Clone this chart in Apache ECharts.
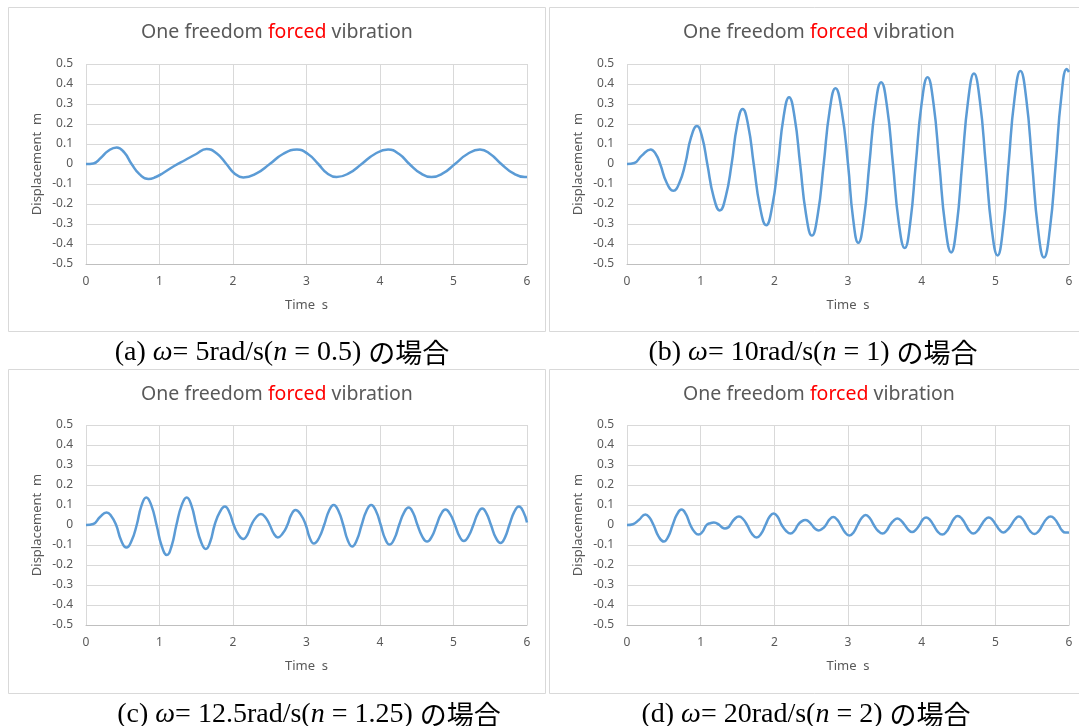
<!DOCTYPE html>
<html><head><meta charset="utf-8">
<script src="https://cdn.jsdelivr.net/npm/echarts@6/dist/echarts.min.js"></script>
<style>html,body{margin:0;padding:0;background:#fff}#c{width:1079px;height:726px}</style>
</head><body><div id="c"></div>
<script>
// ---- data: [time s, displacement m] ----
const curveA = [[0,0],[0.1,0.003],[0.2,0.03],[0.3,0.065],[0.417,0.083],[0.52,0.058],[0.62,0],[0.73,-0.052],[0.85,-0.075],[0.95,-0.065],
  [1.05,-0.045],[1.2,-0.01],[1.35,0.02],[1.5,0.05],[1.64,0.075],[1.78,0.052],[1.91,0],[2.02,-0.047],[2.14,-0.067],[2.32,-0.047],
  [2.5,0],[2.68,0.05],[2.87,0.072],[3.02,0.05],[3.16,0],[3.28,-0.046],[3.41,-0.065],[3.58,-0.046],[3.75,0],[3.93,0.05],
  [4.11,0.072],[4.26,0.05],[4.40,0],[4.55,-0.046],[4.70,-0.065],[4.86,-0.046],[5.02,0],[5.19,0.05],[5.36,0.072],[5.50,0.05],
  [5.65,0],[5.81,-0.046],[5.97,-0.065],[6.0,-0.065]];

const curveB = [[0,0],[0.1,0.005],[0.2,0.042],[0.32,0.073],[0.39,0.05],[0.45,0],[0.54,-0.095],[0.63,-0.134],[0.71,-0.095],[0.79,0],
  [0.87,0.134],[0.95,0.19],[1.02,0.134],[1.09,0],[1.175,-0.163],[1.26,-0.232],[1.34,-0.163],[1.42,0],[1.495,0.193],[1.57,0.275],
  [1.645,0.193],[1.72,0],[1.805,-0.214],[1.89,-0.306],[1.97,-0.214],[2.05,0],[2.125,0.234],[2.20,0.334],[2.275,0.234],[2.35,0],
  [2.43,-0.251],[2.51,-0.358],[2.59,-0.251],[2.67,0],[2.75,0.265],[2.83,0.379],[2.915,0.265],[3.0,0],[3.07,-0.276],[3.14,-0.394],
  [3.215,-0.276],[3.29,0],[3.37,0.286],[3.45,0.409],[3.53,0.286],[3.61,0],[3.69,-0.294],[3.77,-0.42],[3.845,-0.294],[3.92,0],
  [4.0,0.304],[4.08,0.434],[4.16,0.304],[4.24,0],[4.32,-0.309],[4.40,-0.442],[4.475,-0.309],[4.55,0],[4.63,0.316],[4.71,0.452],
  [4.79,0.316],[4.87,0],[4.95,-0.32],[5.03,-0.457],[5.105,-0.32],[5.18,0],[5.26,0.326],[5.34,0.465],[5.42,0.326],[5.50,0],
  [5.58,-0.327],[5.66,-0.467],[5.74,-0.327],[5.82,0],[5.895,0.333],[5.97,0.475],[6.0,0.46]];

const curveC = [[0,0],[0.1,0.005],[0.19,0.04],[0.28,0.063],[0.345,0.044],[0.41,0],[0.48,-0.079],[0.55,-0.113],[0.62,-0.079],[0.69,0],
  [0.755,0.097],[0.82,0.138],[0.89,0.097],[0.96,0],[1.03,-0.105],[1.10,-0.15],[1.165,-0.105],[1.23,0],[1.30,0.097],[1.37,0.138],
  [1.435,0.097],[1.50,0],[1.565,-0.084],[1.63,-0.12],[1.69,-0.084],[1.75,0],[1.82,0.064],[1.89,0.092],[1.95,0.064],[2.01,0],
  [2.075,-0.049],[2.14,-0.07],[2.195,-0.049],[2.25,0],[2.315,0.039],[2.38,0.055],[2.44,0.039],[2.50,0],[2.555,-0.043],[2.61,-0.062],
  [2.675,-0.043],[2.74,0],[2.795,0.053],[2.85,0.075],[2.92,0.053],[2.99,0],[3.045,-0.065],[3.10,-0.093],[3.17,-0.065],[3.24,0],
  [3.305,0.07],[3.37,0.10],[3.435,0.07],[3.50,0],[3.56,-0.075],[3.62,-0.107],[3.685,-0.075],[3.75,0],[3.815,0.07],[3.88,0.10],
  [3.945,0.07],[4.01,0],[4.07,-0.069],[4.13,-0.098],[4.195,-0.069],[4.26,0],[4.325,0.061],[4.39,0.087],[4.45,0.061],[4.51,0],
  [4.575,-0.058],[4.64,-0.083],[4.705,-0.058],[4.77,0],[4.83,0.054],[4.89,0.077],[4.955,0.054],[5.02,0],[5.08,-0.056],[5.14,-0.08],
  [5.205,-0.056],[5.27,0],[5.33,0.057],[5.39,0.082],[5.45,0.057],[5.51,0],[5.575,-0.063],[5.64,-0.09],[5.70,-0.063],[5.76,0],
  [5.825,0.064],[5.89,0.092],[5.95,0.066],[6.0,0.012]];

const curveD = [[0,0],[0.08,0.004],[0.16,0.025],[0.25,0.053],[0.305,0.037],[0.36,0],[0.43,-0.058],[0.50,-0.083],[0.56,-0.058],[0.62,0],
  [0.68,0.054],[0.74,0.077],[0.80,0.054],[0.86,0],[0.915,-0.034],[0.97,-0.048],[1.025,-0.034],[1.08,0],[1.13,0.009],[1.18,0.012],
  [1.255,0],[1.29,-0.012],[1.33,-0.017],[1.375,-0.012],[1.40,0],[1.46,0.03],[1.52,0.043],[1.575,0.03],[1.63,0],[1.695,-0.044],
  [1.76,-0.063],[1.82,-0.044],[1.88,0],[1.935,0.041],[1.99,0.058],[2.045,0.041],[2.10,0],[2.16,-0.03],[2.22,-0.043],[2.27,-0.03],
  [2.32,0],[2.37,0.018],[2.42,0.025],[2.465,0.018],[2.51,0],[2.555,-0.019],[2.60,-0.027],[2.65,-0.019],[2.70,0],[2.75,0.028],
  [2.80,0.04],[2.85,0.028],[2.90,0],[2.96,-0.037],[3.02,-0.053],[3.075,-0.037],[3.13,0],[3.185,0.035],[3.24,0.05],[3.295,0.035],
  [3.35,0],[3.41,-0.03],[3.47,-0.043],[3.52,-0.03],[3.57,0],[3.62,0.022],[3.67,0.032],[3.72,0.022],[3.77,0],[3.82,-0.024],
  [3.87,-0.035],[3.92,-0.024],[3.97,0],[4.015,0.027],[4.06,0.038],[4.11,0.027],[4.16,0],[4.22,-0.034],[4.28,-0.048],[4.335,-0.034],
  [4.39,0],[4.44,0.032],[4.49,0.045],[4.545,0.032],[4.60,0],[4.65,-0.03],[4.70,-0.043],[4.755,-0.03],[4.81,0],[4.86,0.026],
  [4.91,0.037],[4.96,0.026],[5.01,0],[5.06,-0.026],[5.11,-0.037],[5.16,-0.026],[5.215,0],[5.27,0.03],[5.32,0.042],[5.37,0.03],
  [5.42,0],[5.475,-0.032],[5.53,-0.045],[5.585,-0.032],[5.64,0],[5.695,0.03],[5.75,0.042],[5.805,0.03],[5.86,0],[5.905,-0.027],
  [5.95,-0.038],[6.0,-0.037]];

const captions = [
  '(a) {i|ω}= 5rad/s({i|n} = 0.5) {j|の場合}',
  '(b) {i|ω}= 10rad/s({i|n} = 1) {j|の場合}',
  '(c) {i|ω}= 12.5rad/s({i|n} = 1.25) {j|の場合}',
  '(d) {i|ω}= 20rad/s({i|n} = 2) {j|の場合}'
];
const chartTitle = '{n|One freedom }{r|forced}{n| vibration}';
const xName = 'Time  s';
const yName = 'Displacement  m';

// ---- layout ----
const panels = [
  {grid: {left: 86, top: 64, width: 441, height: 200}, box: [8, 7, 537, 324], titleX: 277, titleY: 23, capX: 282, capY: 339},
  {grid: {left: 627, top: 64, width: 442, height: 200}, box: [549, 7, 545, 324], titleX: 819, titleY: 23, capX: 813, capY: 339},
  {grid: {left: 86, top: 425, width: 441, height: 200}, box: [8, 369, 537, 324], titleX: 277, titleY: 385, capX: 309, capY: 701},
  {grid: {left: 627, top: 425, width: 442, height: 200}, box: [549, 369, 545, 324], titleX: 819, titleY: 385, capX: 806, capY: 701}
];
const curves = [curveA, curveB, curveC, curveD];

const labelColor = '#595959';
const sans = '"Noto Sans", "Noto Sans CJK JP", sans-serif';
const serif = '"Liberation Serif", "Noto Sans CJK JP", serif';
const cjk = '"Noto Sans CJK JP", sans-serif';

const option = {
  backgroundColor: '#fff',
  animation: false,
  title: [], grid: [], xAxis: [], yAxis: [], series: [], graphic: []
};

panels.forEach((p, i) => {
  option.graphic.push({
    type: 'rect', silent: true, z: -1,
    shape: {x: p.box[0] + 0.5, y: p.box[1] + 0.5, width: p.box[2], height: p.box[3]},
    style: {fill: 'none', stroke: '#d9d9d9', lineWidth: 1}
  });
  option.title.push({
    text: chartTitle, left: p.titleX, top: p.titleY, textAlign: 'center', padding: 0,
    textStyle: {fontWeight: 'normal', fontSize: 19.5, fontFamily: sans, rich: {
      n: {fontFamily: sans, fontSize: 19.5, fontWeight: 'normal', color: labelColor},
      r: {fontFamily: sans, fontSize: 19.5, fontWeight: 'normal', color: '#ff0000'}
    }}
  });
  option.title.push({
    text: captions[i], left: p.capX, top: p.capY, textAlign: 'center', padding: 0,
    textStyle: {fontFamily: serif, fontSize: 28, fontWeight: 'normal', color: '#000',
      rich: {
        i: {fontFamily: serif, fontSize: 28, fontStyle: 'italic', fontWeight: 'normal', color: '#000'},
        j: {fontFamily: cjk, fontSize: 27, fontWeight: 'normal', color: '#000'}
      }}
  });
  option.grid.push(Object.assign({containLabel: false}, p.grid));
  option.xAxis.push({
    type: 'value', gridIndex: i, min: 0, max: 6, interval: 1,
    name: xName, nameLocation: 'middle', nameGap: 35,
    nameTextStyle: {color: labelColor, fontFamily: sans, fontSize: 13},
    axisLine: {show: true, onZero: false, lineStyle: {color: '#bfbfbf', width: 1}},
    axisTick: {show: false},
    axisLabel: {color: labelColor, fontFamily: sans, fontSize: 12, margin: 12},
    splitLine: {show: true, lineStyle: {color: '#d9d9d9', width: 1}}
  });
  option.yAxis.push({
    type: 'value', gridIndex: i, min: -0.5, max: 0.5, interval: 0.1,
    name: yName, nameLocation: 'middle', nameGap: 42, nameRotate: 90,
    nameTextStyle: {color: labelColor, fontFamily: sans, fontSize: 13},
    axisLine: {show: false},
    axisTick: {show: false},
    axisLabel: {color: labelColor, fontFamily: sans, fontSize: 12, margin: 13},
    splitLine: {show: true, lineStyle: {color: '#d9d9d9', width: 1}}
  });
  option.series.push({
    type: 'line', xAxisIndex: i, yAxisIndex: i,
    data: curves[i],
    showSymbol: false, smooth: 0.5,
    lineStyle: {color: '#5b9bd5', width: 2.5},
    itemStyle: {color: '#5b9bd5'}
  });
});

const chart = echarts.init(document.getElementById('c'), null, {renderer: 'canvas'});
chart.setOption(option);
</script>
</body></html>
